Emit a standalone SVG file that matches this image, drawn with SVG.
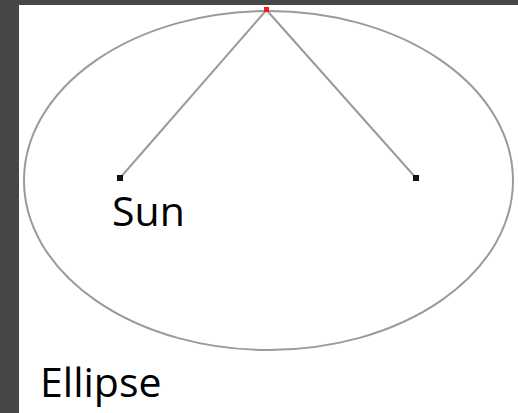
<svg xmlns="http://www.w3.org/2000/svg" width="518" height="413" viewBox="0 0 518 413">
<style>
.curve{fill:none;stroke:#9a9a9a;stroke-width:2}
.lbl{font-family:"Open Sans","Noto Sans","Liberation Sans",sans-serif;font-size:41px;fill:#000}
</style>
<rect x="0" y="0" width="518" height="413" fill="#474747"/>
<rect x="19" y="5" width="499" height="408" fill="#fff"/>
<g id="ellipse"><ellipse class="curve" cx="268.5" cy="180.5" rx="244.5" ry="169.5"/></g>
<g id="connectors">
<line class="curve" x1="266.5" y1="10" x2="120" y2="178"/>
<line class="curve" x1="266.5" y1="10" x2="416" y2="178"/>
</g>
<g id="point"><rect x="264" y="7" width="5" height="5" fill="#ff1a1a"/></g>
<g id="sun"><rect x="117" y="175" width="6" height="6" fill="#111"/><text class="lbl" x="112" y="226">Sun</text></g>
<g id="focus2"><rect x="413" y="175" width="6" height="6" fill="#111"/></g>
<g id="label"><text class="lbl" x="40" y="397">Ellipse</text></g>
</svg>
